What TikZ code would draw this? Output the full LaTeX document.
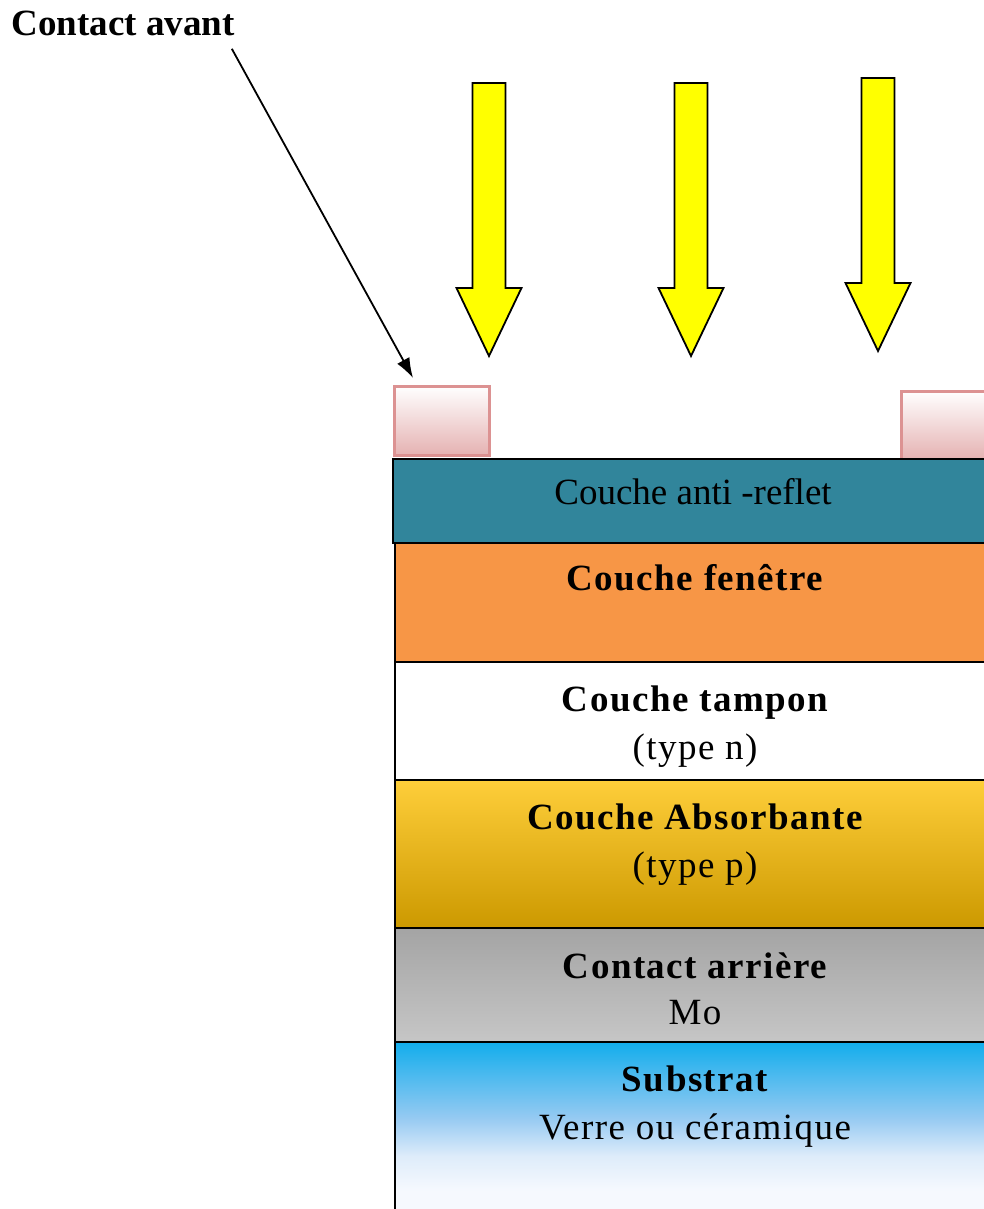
\documentclass[tikz,border=0pt]{standalone}
\usepackage{fontspec}
\setmainfont{Liberation Serif}
\newfontfamily\spacedfont[LetterSpace=4]{Liberation Serif}
\definecolor{ArBlue}{RGB}{49,133,155}
\definecolor{WinOrange}{RGB}{247,150,70}
\definecolor{AbsTop}{RGB}{254,206,58}
\definecolor{AbsBot}{RGB}{204,153,0}
\definecolor{MoTop}{RGB}{164,164,164}
\definecolor{MoBot}{RGB}{198,198,198}
\definecolor{SubTop}{RGB}{18,173,236}
\definecolor{SubMid}{RGB}{150,202,242}
\definecolor{SubLight}{RGB}{222,236,250}
\definecolor{SubBot}{RGB}{246,249,254}
\definecolor{PadEdge}{RGB}{220,146,146}
\definecolor{PadBot}{RGB}{229,178,178}
\definecolor{PadShadow}{RGB}{205,140,140}
\definecolor{SunYellow}{RGB}{255,255,0}
\usepackage{tikz}
\usetikzlibrary{positioning,calc,arrows,arrows.meta}
\tikzset{>=latex}
\pgfdeclareverticalshading{substrat}{100bp}{color(0bp)=(SubBot); color(32bp)=(SubBot);
    color(42bp)=(SubLight); color(53bp)=(SubMid); color(75bp)=(SubTop); color(100bp)=(SubTop)}
\tikzset{
  layertitle/.style={font=\fontsize{18.5}{24}\selectfont\spacedfont\bfseries,anchor=base,inner sep=0pt},
  layersub/.style={font=\fontsize{18.5}{24}\selectfont\spacedfont,anchor=base,inner sep=0pt},
  layerline/.style={draw=black,line width=0.8pt},
  pad/.style={top color=white,bottom color=PadBot,draw=PadEdge,line width=1.5pt},
}

\begin{document}
\begin{tikzpicture}[>=latex,x=0.5pt,y=-0.5pt]
        \useasboundingbox (0,0) rectangle (984,1209);
        % light arrows
        \foreach \x/\t in {489/83,691/83,878/78}
            \draw[fill=SunYellow,line width=0.9pt,line join=miter] (\x-16.5,\t) -- (\x+16.5,\t) -- (\x+16.5,\t+205)
                -- (\x+32.5,\t+205) -- (\x,\t+273) -- (\x-32.5,\t+205) -- (\x-16.5,\t+205) -- cycle;
        \begin{scope}
            \clip (0,0) rectangle (984,1209);
            % front contacts
            \fill[PadShadow] (397,389) rectangle (491,457);
            \shade[pad] (394,386) rectangle (489,455);
            \shade[pad] (901,391) rectangle (1000,459);
            % stack of layers
            \draw[layerline,line width=1pt,fill=ArBlue] (393,459) rectangle (1000,543);
            \draw[layerline,fill=WinOrange] (395,543) rectangle (1000,662);
            \draw[layerline,fill=white] (395,662) rectangle (1000,780);
            \shade[layerline,top color=AbsTop,bottom color=AbsBot] (395,780) rectangle (1000,928);
            \shade[layerline,top color=MoTop,bottom color=MoBot] (395,928) rectangle (1000,1042);
            \shade[layerline,shading=substrat] (395,1042) rectangle (1000,1215);
        \end{scope}
        \node[font=\fontsize{18.5}{24}\selectfont,anchor=base,inner sep=0pt] (antireflet) at (693,504) {Couche anti -reflet};
        \node[layertitle] (fenetre) at (695,590) {Couche fenêtre};
        \node[layertitle] (tampon) at (695,711) {Couche tampon};
        \node[layersub] (tamponType) at (695,759) {(type n)};
        \node[layertitle] (absorbante) at (695,829) {Couche Absorbante};
        \node[layersub] (absorbanteType) at (695,877) {(type p)};
        \node[layertitle] (arriere) at (695,978) {Contact arrière};
        \node[layersub] (mo) at (695,1024) {Mo};
        \node[layertitle] (substrat) at (695,1091) {Substrat};
        \node[layersub] (verre) at (695,1139) {Verre ou céramique};
        % label of the front contact
        \node[font=\fontsize{18.5}{24}\selectfont\bfseries,anchor=base west,inner sep=0pt] (avant) at (11,36) {Contact avant};
        \coordinate (padtip) at (413,378);
        \draw[-{Latex[length=10pt,width=7pt]},line width=0.9pt] ($(avant.south east)+(-3,12)$) -- (padtip);
\end{tikzpicture}
\end{document}
